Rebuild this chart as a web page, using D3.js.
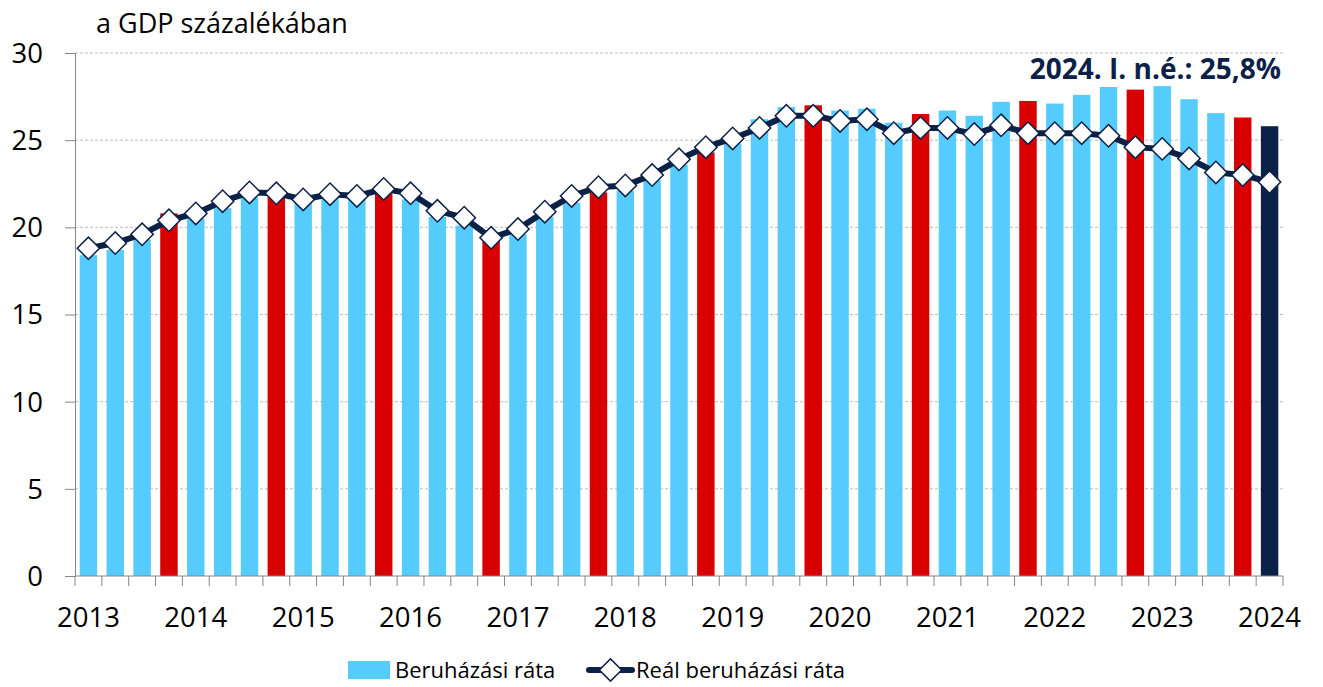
<!DOCTYPE html>
<html>
<head>
<meta charset="utf-8">
<script src="https://cdn.jsdelivr.net/npm/d3@7"></script>
<style>
  body { margin: 0; background: #fff; }
  svg text { font-family: "Open Sans", "Noto Sans", sans-serif; fill: #000; }
</style>
</head>
<body>
<div id="chart"></div>
<script>
//////////////////////////////  data  /////////////////////////////////
var years = ["2013","2014","2015","2016","2017","2018","2019","2020","2021","2022","2023","2024"];

// nominal investment rate, quarterly (2013 Q1 .. 2024 Q1)
var rate = [
  18.4, 18.7, 19.3, 20.8,
  20.5, 21.1, 21.7, 21.8,
  21.5, 21.7, 21.7, 21.95,
  21.6, 20.6, 20.1, 19.3,
  19.6, 20.6, 21.4, 22.0,
  22.1, 22.7, 23.6, 24.3,
  24.8, 26.2, 26.9, 27.0,
  26.7, 26.8, 26.0, 26.5,
  26.7, 26.4, 27.2, 27.25,
  27.1, 27.6, 28.05, 27.9,
  28.1, 27.35, 26.55, 26.3,
  25.8
];

// real investment rate
var realRate = [
  18.8, 19.1, 19.6, 20.4,
  20.8, 21.5, 22.0, 21.95,
  21.6, 21.9, 21.8, 22.2,
  21.95, 20.95, 20.55, 19.4,
  19.9, 20.9, 21.8, 22.3,
  22.4, 23.0, 23.9, 24.6,
  25.1, 25.7, 26.4, 26.4,
  26.1, 26.2, 25.4, 25.7,
  25.7, 25.35, 25.85, 25.4,
  25.4, 25.4, 25.25, 24.6,
  24.5, 23.95, 23.15, 23.0,
  22.6
];

var yTicks = [0, 5, 10, 15, 20, 25, 30];
var yLabel = "a GDP százalékában";
var note = "2024. I. n.é.: 25,8%";
var legendLabels = ["Beruházási ráta", "Reál beruházási ráta"];

//////////////////////////////  setup  /////////////////////////////////
var width = 1323, height = 687;
var margin = {top: 53, right: 40, bottom: 111, left: 75};
var plotW = width - margin.left - margin.right;
var plotH = height - margin.top - margin.bottom;

var BLUE = "#55ccfd", RED = "#d90000", NAVY = "#0c2148";

var svg = d3.select("#chart")
  .append("svg")
  .attr("width", width)
  .attr("height", height);

var g = svg.append("g")
  .attr("transform", "translate(" + margin.left + "," + margin.top + ")");

var idx = d3.range(rate.length);

var x = d3.scaleBand()
  .domain(idx)
  .range([0, plotW])
  .paddingInner(0.35)
  .paddingOuter(0.175);

var y = d3.scaleLinear()
  .domain([0, 30])
  .range([plotH, 0]);

// grid
g.selectAll(".grid")
  .data(yTicks.filter(function(d){ return d > 0; }))
  .enter().append("line")
  .attr("class", "grid")
  .attr("x1", 0).attr("x2", plotW)
  .attr("y1", function(d){ return y(d); })
  .attr("y2", function(d){ return y(d); })
  .attr("stroke", "#bdbdbd")
  .attr("stroke-width", 1)
  .attr("stroke-dasharray", "3,2");

// bars
g.selectAll(".bar")
  .data(rate)
  .enter().append("rect")
  .attr("class", "bar")
  .attr("x", function(d, i){ return x(i); })
  .attr("width", x.bandwidth())
  .attr("y", function(d){ return y(d); })
  .attr("height", function(d){ return plotH - y(d); })
  .attr("fill", function(d, i){
    if (i === rate.length - 1) return NAVY;
    return (i % 4 === 3) ? RED : BLUE;
  });

// y axis
var yAxis = g.append("g")
  .call(d3.axisLeft(y).tickValues(yTicks).tickSize(10).tickPadding(22).tickFormat(d3.format("d")));
yAxis.selectAll("path, line").attr("stroke", "#868686");
yAxis.selectAll("text").attr("font-size", "27.5px").attr("font-family", "Open Sans").attr("dy", "0.34em");

// x axis: line + boundary ticks
var step = x.step();
var bounds = d3.range(rate.length + 1).map(function(i){ return i * step; });
var xg = g.append("g").attr("transform", "translate(0," + plotH + ")");
xg.append("line").attr("x1", 0).attr("x2", plotW).attr("stroke", "#868686");
xg.selectAll(".xt")
  .data(bounds)
  .enter().append("line")
  .attr("x1", function(d){ return d; }).attr("x2", function(d){ return d; })
  .attr("y1", 0).attr("y2", 10)
  .attr("stroke", "#868686");

var xAxis = xg.append("g")
  .call(d3.axisBottom(x)
    .tickValues(idx.filter(function(i){ return i % 4 === 0; }))
    .tickSize(0).tickPadding(31)
    .tickFormat(function(i){ return years[i / 4]; }));
xAxis.select(".domain").remove();
xAxis.selectAll("text").attr("font-size", "27.5px").attr("font-family", "Open Sans");

// real rate line
var cx = function(i){ return x(i) + x.bandwidth() / 2; };
var line = d3.line()
  .x(function(d, i){ return cx(i); })
  .y(function(d){ return y(d); });

g.append("path")
  .datum(realRate)
  .attr("fill", "none")
  .attr("stroke", NAVY)
  .attr("stroke-width", 6)
  .attr("d", line);

var diamond = d3.symbol().type(d3.symbolSquare).size(250);
g.selectAll(".pt")
  .data(realRate)
  .enter().append("path")
  .attr("class", "pt")
  .attr("d", diamond)
  .attr("transform", function(d, i){ return "translate(" + cx(i) + "," + y(d) + ") rotate(45)"; })
  .attr("fill", "#fff")
  .attr("stroke", NAVY)
  .attr("stroke-width", 1.5);

// axis title
svg.append("text")
  .attr("x", 96).attr("y", 33)
  .attr("font-size", "27px")
  .text(yLabel);

// annotation
svg.append("text")
  .attr("x", 1281).attr("y", 79)
  .attr("text-anchor", "end")
  .attr("font-size", "28px")
  .attr("font-weight", "bold")
  .style("fill", NAVY)
  .text(note);

// legend
var lg = svg.append("g").attr("transform", "translate(0,670)");
lg.append("rect")
  .attr("x", 348).attr("y", -9).attr("width", 42).attr("height", 18)
  .attr("fill", BLUE);
lg.append("text")
  .attr("x", 395).attr("y", 0).attr("dy", "0.35em")
  .attr("font-size", "22px")
  .text(legendLabels[0]);
lg.append("line")
  .attr("x1", 589).attr("x2", 632).attr("y1", 0).attr("y2", 0)
  .attr("stroke", NAVY).attr("stroke-width", 6).attr("stroke-linecap", "round");
lg.append("path")
  .attr("d", diamond)
  .attr("transform", "translate(610.5,0) rotate(45)")
  .attr("fill", "#fff").attr("stroke", NAVY).attr("stroke-width", 1.5);
lg.append("text")
  .attr("x", 636).attr("y", 0).attr("dy", "0.35em")
  .attr("font-size", "22px")
  .text(legendLabels[1]);
</script>
</body>
</html>
